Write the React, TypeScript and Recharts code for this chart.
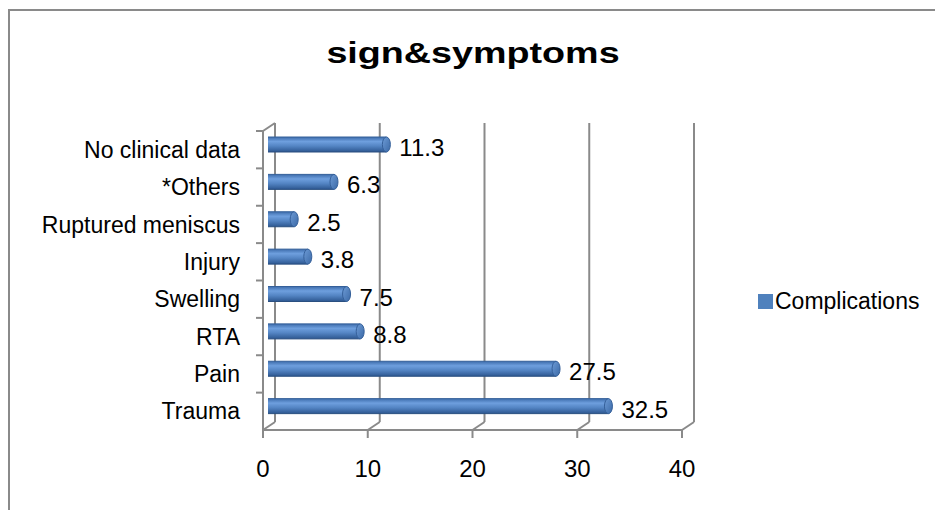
import React from "react";
import {
  Bar,
  BarChart,
  CartesianGrid,
  LabelList,
  Legend,
  XAxis,
  YAxis,
} from "recharts";

const CATEGORIES = [
  "No clinical data",
  "*Others",
  "Ruptured meniscus",
  "Injury",
  "Swelling",
  "RTA",
  "Pain",
  "Trauma",
];
const COMPLICATIONS = [11.3, 6.3, 2.5, 3.8, 7.5, 8.8, 27.5, 32.5];
const X_TICKS = [0, 10, 20, 30, 40];

const data = CATEGORIES.map((name, i) => ({ name, value: COMPLICATIONS[i] }));

const FONT = '"Liberation Sans", Arial, sans-serif';
const GRID = "#8a8a8a";
const BLUE = "#4f81bd";
// 3D depth of the plot box (back wall offset) and bar offset (middle depth)
const DX = 12;
const DY = -8;
const BX = 5;
const BY = -5;

function CylinderBar(props: any) {
  const { x, y, width, height } = props;
  if (width == null || height == null) return null;
  const x0 = x + BX;
  const y0 = y + BY;
  const rx = 4;
  return (
    <g>
      <rect x={x0} y={y0} width={width} height={height} fill="url(#barGrad)" />
      <line x1={x0} x2={x0 + width} y1={y0} y2={y0} stroke="#35609a" strokeWidth={1} />
      <line x1={x0} x2={x0 + width} y1={y0 + height} y2={y0 + height} stroke="#2a4f80" strokeWidth={1} />
      <ellipse
        cx={x0 + width}
        cy={y0 + height / 2}
        rx={rx}
        ry={height / 2}
        fill="url(#capGrad)"
        stroke="#35609a"
        strokeWidth={1}
      />
    </g>
  );
}

function BackGridLine(props: any) {
  const { x1, y1, y2 } = props;
  return (
    <g>
      <line x1={x1 + DX} x2={x1 + DX} y1={y1 + DY} y2={y2 + DY} stroke={GRID} strokeWidth={2} />
      <line x1={x1} x2={x1 + DX} y1={y2} y2={y2 + DY} stroke={GRID} strokeWidth={2} />
    </g>
  );
}

function LeftTick(props: any) {
  const { x1, y1, index } = props;
  return (
    <g>
      <line x1={x1 - 7} x2={x1} y1={y1} y2={y1} stroke={GRID} strokeWidth={2} />
      {index === 0 && (
        <line x1={x1} x2={x1 + DX} y1={y1} y2={y1 + DY} stroke={GRID} strokeWidth={2} />
      )}
    </g>
  );
}

function ValueLabel(props: any) {
  const { x, y, width, height, value } = props;
  return (
    <text
      x={x + width + 18}
      y={y + height / 2 - 2}
      dominantBaseline="central"
      fontSize={24}
      fontFamily={FONT}
      fill="#000"
    >
      {value}
    </text>
  );
}

function LegendContent() {
  return (
    <div style={{ display: "flex", alignItems: "center", fontFamily: FONT, fontSize: 23, color: "#000" }}>
      <span style={{ display: "inline-block", width: 15, height: 15, background: BLUE, marginRight: 2 }} />
      <span>Complications</span>
    </div>
  );
}

export default function App() {
  return (
    <div
      style={{
        position: "absolute",
        left: 0,
        top: 0,
        width: 935,
        height: 510,
        overflow: "hidden",
        background: "#fff",
      }}
    >
      <div
        style={{
          position: "absolute",
          left: 8,
          top: 9,
          width: 1000,
          height: 600,
          border: `2px solid ${GRID}`,
        }}
      />
      <svg width={935} height={90} style={{ position: "absolute", left: 0, top: 0 }}>
        <text
          x={0}
          y={0}
          textAnchor="middle"
          fontFamily={FONT}
          fontWeight="bold"
          fontSize={29}
          fill="#000"
          transform="translate(473 63) scale(1.3 1)"
        >
          sign&amp;symptoms
        </text>
      </svg>
      <div style={{ position: "absolute", left: 0, top: 0 }}>
        <BarChart
          width={935}
          height={510}
          data={data}
          layout="vertical"
          margin={{ top: 131, right: 253, bottom: 50, left: 13 }}
          barSize={15}
        >
          <defs>
            <linearGradient id="barGrad" x1="0" y1="0" x2="0" y2="1">
              <stop offset="0" stopColor="#3d6cab" />
              <stop offset="0.3" stopColor="#6e9fde" />
              <stop offset="0.6" stopColor="#5485c4" />
              <stop offset="1" stopColor="#2d5790" />
            </linearGradient>
            <linearGradient id="capGrad" x1="0" y1="0" x2="1" y2="1">
              <stop offset="0" stopColor="#6d9bd6" />
              <stop offset="1" stopColor="#3b69a6" />
            </linearGradient>
          </defs>
          <CartesianGrid
            vertical={(p: any) => <BackGridLine {...p} />}
            horizontal={(p: any) => <LeftTick {...p} />}
            horizontalCoordinatesGenerator={({ offset }: any) =>
              CATEGORIES.map((_, i) => offset.top + (i * offset.height) / CATEGORIES.length)
            }
          />
          <XAxis
            type="number"
            domain={[0, 40]}
            ticks={X_TICKS}
            height={30}
            axisLine={{ stroke: GRID, strokeWidth: 2 }}
            tickLine={{ stroke: GRID, strokeWidth: 2 }}
            tickSize={8}
            tickMargin={22}
            tick={{ fill: "#000", fontSize: 24, fontFamily: FONT }}
          />
          <YAxis
            type="category"
            dataKey="name"
            width={250}
            axisLine={{ stroke: GRID, strokeWidth: 2 }}
            tickLine={false}
            tickSize={0}
            tickMargin={23}
            interval={0}
            tick={{ fill: "#000", fontSize: 23, fontFamily: FONT }}
          />
          <Legend
            layout="horizontal"
            align="center"
            verticalAlign="middle"
            content={() => <LegendContent />}
            wrapperStyle={{ left: 758, top: 288, width: 180 }}
          />
          <Bar dataKey="value" name="Complications" fill={BLUE} shape={CylinderBar} isAnimationActive={false}>
            <LabelList dataKey="value" content={ValueLabel} />
          </Bar>
        </BarChart>
      </div>
    </div>
  );
}
